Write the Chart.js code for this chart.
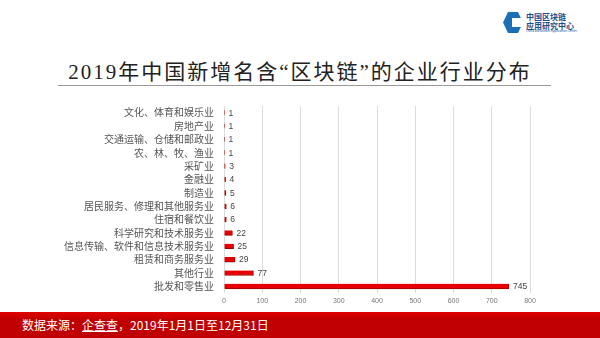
<!DOCTYPE html>
<html><head><meta charset="utf-8">
<script src="https://cdn.jsdelivr.net/npm/chart.js@4/dist/chart.umd.min.js"></script>
<style>
html,body{margin:0;padding:0;background:#fff;width:600px;height:338px;overflow:hidden;position:relative;font-family:"Noto Sans CJK SC",sans-serif}
#title{position:absolute;left:0;width:600px;top:59px;text-align:center;font-family:"Liberation Serif","Noto Sans CJK SC",serif;font-size:21px;color:#222;letter-spacing:2px;line-height:26px}
#rule{position:absolute;left:58px;width:493px;top:85px;height:1px;background:#999}
#wrap{position:absolute;left:0;top:90px;width:600px;height:220px}
#footer{position:absolute;left:0;top:312px;width:600px;height:26px;background:linear-gradient(#e00000,#c00000 30%,#c00000)}
#footer span{position:absolute;left:22px;top:5px;color:#fff;font-size:12px;line-height:16px}
#logo{position:absolute;left:503px;top:11px;width:80px;height:24px}
#icon{position:absolute;left:0;top:1px;width:20px;height:21px;background:#1a6fb5;clip-path:polygon(25% 0,75% 0,100% 50%,75% 100%,25% 100%,0 50%)}
#icon2{position:absolute;left:9px;top:7px;width:11px;height:9px;background:#fff}
#lt{position:absolute;left:23px;top:1px;color:#1c4e8c;font-size:8px;line-height:9px;font-weight:bold;white-space:nowrap}
#ls{position:absolute;left:23px;top:19px;color:#1c4e8c;font-size:3px;line-height:3px;white-space:nowrap}
</style></head>
<body>
<div id="logo"><div id="icon"></div><div id="icon2"></div><div id="lt">中国区块链<br>应用研究中心</div><div id="ls">China Blockchain Application Center</div></div>
<div id="title">2019年中国新增名含“区块链”的企业行业分布</div>
<div id="rule"></div>
<div id="wrap"><canvas id="c" width="600" height="220"></canvas></div>
<div id="footer"><span>数据来源：<u>企查查</u>，2019年1月1日至12月31日</span></div>
<script>
const categories = ['文化、体育和娱乐业','房地产业','交通运输、仓储和邮政业','农、林、牧、渔业','采矿业','金融业','制造业','居民服务、修理和其他服务业','住宿和餐饮业','科学研究和技术服务业','信息传输、软件和信息技术服务业','租赁和商务服务业','其他行业','批发和零售业'];
const values = [1,1,1,1,3,4,5,6,6,22,25,29,77,745];
const xTicks = [0,100,200,300,400,500,600,700,800];

const labelPlugin = {
  id:'vlabels',
  afterDatasetsDraw(chart){
    const ctx = chart.ctx;
    const meta = chart.getDatasetMeta(0);
    ctx.save();
    ctx.fillStyle = '#444';
    ctx.font = '8.5px "Liberation Sans", sans-serif';
    ctx.textBaseline = 'middle';
    ctx.textAlign = 'left';
    meta.data.forEach((bar,i)=>{
      ctx.fillText(String(values[i]), bar.x + 4, bar.y + 0.5);
    });
    ctx.restore();
  }
};

new Chart(document.getElementById('c'), {
  type:'bar',
  data:{labels:categories, datasets:[{data:values, backgroundColor:'#e60000', borderColor:'#9a0000', borderWidth:{top:0,bottom:1,left:0,right:1}, borderSkipped:false, barThickness:5}]},
  options:{
    indexAxis:'y',
    responsive:false,
    animation:false,
    layout:{padding:{top:7,right:70,left:0,bottom:0}},
    plugins:{legend:{display:false},tooltip:{enabled:false}},
    scales:{
      x:{min:0,max:800,
        afterBuildTicks(ax){ax.ticks = xTicks.map(v=>({value:v}));},
        grid:{color:'#dcdcdc',lineWidth:1,drawTicks:false},
        border:{display:false},
        ticks:{color:'#777',font:{size:7,family:'"Liberation Sans", sans-serif'},padding:4},
        afterFit(ax){ax.height=17;}
      },
      y:{
        grid:{display:false,drawTicks:false},
        border:{display:false},
        ticks:{color:'#555',font:{size:10,family:'"Noto Sans CJK SC", sans-serif'},padding:10,autoSkip:false},
        afterFit(ax){ax.width=224;}
      }
    }
  },
  plugins:[labelPlugin]
});
</script>
</body></html>
